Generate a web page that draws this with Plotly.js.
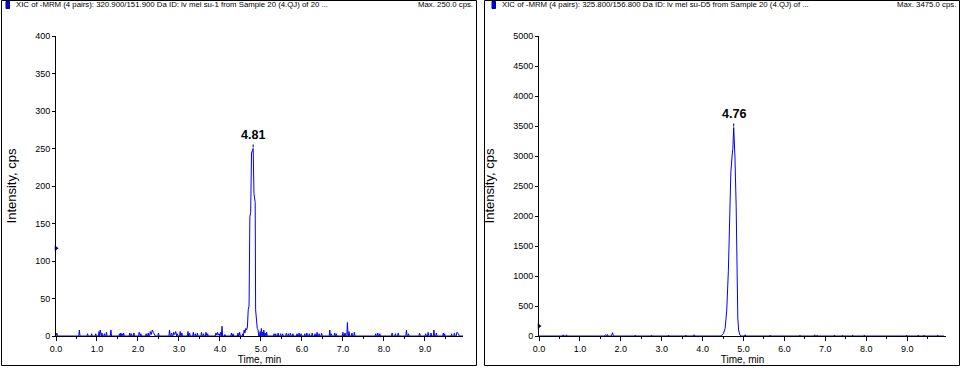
<!DOCTYPE html>
<html>
<head>
<meta charset="utf-8">
<script src="https://cdn.plot.ly/plotly-3.0.1.min.js"></script>
<style>
html,body{margin:0;padding:0;background:#fff;}
#chart{width:964px;height:370px;}
</style>
</head>
<body>
<div id="chart"></div>
<script>
// ---------- DATA ----------
const leftTitle = "XIC of -MRM (4 pairs): 320.900/151.900 Da ID: lv mel su-1 from Sample 20 (4.QJ) of 20 ...";
const rightTitle = "XIC of -MRM (4 pairs): 325.800/156.800 Da ID: lv mel su-D5 from Sample 20 (4.QJ) of ...";
const leftMax = "Max. 250.0 cps.";
const rightMax = "Max. 3475.0 cps.";

const leftTime = [
  0.000,0.020,0.035,
  0.555,0.570,0.585,
  0.755,0.770,0.785,0.855,0.870,0.885,0.955,0.970,0.985,
  1.035,1.050,1.065,1.080,1.095,1.105,1.120,1.135,
  1.165,1.180,1.195,1.215,1.230,1.245,
  1.325,1.340,1.355,
  1.535,1.550,1.565,1.580,1.595,1.610,1.625,1.635,1.650,1.665,
  1.785,1.800,1.815,1.825,1.840,1.855,1.885,1.900,1.915,
  2.015,2.030,2.045,2.055,2.070,2.085,
  2.185,2.200,2.215,2.235,2.250,2.265,2.285,2.300,2.325,2.350,2.375,2.400,2.420,
  2.485,2.500,2.515,
  2.755,2.770,2.785,2.805,2.820,2.835,2.855,2.870,2.895,2.920,2.945,2.960,2.975,
  3.015,3.030,3.045,3.055,3.070,3.085,
  3.205,3.220,3.235,3.245,3.260,3.275,
  3.335,3.350,3.365,3.385,3.400,3.415,3.435,3.450,3.465,
  3.535,3.550,3.565,3.585,3.600,3.615,3.645,3.660,3.675,3.685,3.700,3.715,
  3.885,3.900,3.920,3.940,3.960,3.980,4.000,4.020,4.035,4.050,4.065,
  4.105,4.120,4.135,
  4.265,4.280,4.295,4.305,4.320,4.335,
  4.425,4.440,4.455,4.465,4.480,4.495,
  4.540,4.555,4.570,4.590,4.610,4.630,4.650,4.670,4.690,4.710,4.730,4.750,4.770,4.790,4.810,4.830,4.845,4.860,4.870,4.890,4.910,4.930,4.945,
  4.965,4.980,4.995,5.010,5.025,5.040,5.055,5.070,5.085,5.100,5.125,5.140,5.155,
  5.305,5.320,5.335,5.345,5.360,5.375,5.405,5.420,5.435,5.465,5.480,5.495,5.515,5.530,5.545,
  5.605,5.620,5.635,5.655,5.670,5.685,5.705,5.720,5.735,5.765,5.780,5.795,
  5.865,5.880,5.895,5.915,5.930,5.945,5.965,5.980,5.995,
  6.055,6.070,6.085,6.105,6.120,6.135,6.165,6.180,6.195,6.235,6.250,6.265,
  6.305,6.320,6.335,6.355,6.370,6.385,6.405,6.420,6.435,6.465,6.480,6.495,
  6.665,6.680,6.695,6.705,6.720,6.735,
  6.785,6.800,6.815,6.825,6.840,6.855,
  6.985,7.000,7.015,7.035,7.050,7.065,7.095,7.110,7.125,7.135,7.150,7.165,7.205,7.220,7.235,7.265,7.280,7.295,
  7.785,7.800,7.815,7.835,7.850,7.865,7.885,7.900,7.915,
  8.185,8.200,8.215,8.265,8.280,8.295,8.335,8.350,8.365,
  8.535,8.550,8.565,8.585,8.600,8.615,
  8.855,8.870,8.885,
  9.005,9.020,9.035,9.065,9.080,9.095,9.135,9.150,9.165,9.205,9.220,9.235,9.265,9.280,9.295,
  9.435,9.450,9.465,9.480,9.495,
  9.635,9.650,9.665,9.705,9.720,9.735,9.765,9.780,9.800,9.820,9.835,9.930
];
const leftIntensity = [
  0,4,0,
  0,8,0,
  0,3,0,0,3,0,0,3,0,
  0,6,0,8,0,0,4,0,
  0,3,0,0,5,0,
  0,8,0,
  0,3,0,4,0,3,0,0,4,0,
  0,4,0,0,3,0,0,4,0,
  0,5,0,0,3,0,
  0,3,0,0,4,0,0,6,2,8,5,3,0,
  0,4,0,
  0,8,0,0,4,0,0,5,2,6,0,3,0,
  0,6,0,0,4,0,
  0,6,0,0,4,0,
  0,5,0,0,3,0,0,4,0,
  0,5,0,0,3,0,0,5,0,0,3,0,
  0,4,1,5,1,3,0,5,0,13,0,
  0,2,0,
  0,4,0,0,3,0,
  0,4,0,0,5,0,
  0,3,0,8,4,10,8,12,35,40,159,165,244,246,250,190,185,178,35,20,10,8,0,
  0,6,0,10,0,5,0,8,0,4,0,5,0,
  0,3,0,0,3,0,0,4,0,0,3,0,0,3,0,
  0,4,0,0,3,0,0,4,0,0,3,0,
  0,3,0,0,4,0,0,3,0,
  0,3,0,0,4,0,0,3,0,0,4,0,
  0,3,0,0,5,0,0,3,0,0,4,0,
  0,8,0,0,3,0,
  0,4,0,0,3,0,
  0,5,0,0,4,0,0,18,0,0,6,0,0,4,0,0,5,0,
  0,3,0,0,4,0,0,3,0,
  0,4,0,0,3,0,0,4,0,
  0,8,0,0,3,0,
  0,4,0,
  0,3,0,0,5,0,0,4,0,0,8,0,0,4,0,
  0,4,0,3,0,
  0,3,0,0,4,0,0,5,4,3,0,0
];

const rightTime = [
  0.000,
  0.575,0.590,0.605,0.655,0.670,0.685,
  1.605,1.620,1.635,1.655,1.670,1.685,
  1.765,1.780,1.800,1.815,
  2.335,2.350,2.365,2.735,2.750,2.765,3.155,3.170,3.185,3.575,3.590,3.605,3.775,3.790,3.805,
  4.450,4.510,4.550,4.590,4.630,4.650,4.690,4.720,4.740,4.760,4.790,4.820,4.840,4.860,4.880,4.910,4.940,
  5.025,5.040,5.055,5.635,5.650,5.665,6.365,6.380,6.395,6.725,6.740,6.755,6.785,6.800,6.815,
  7.205,7.220,7.235,7.405,7.420,7.435,7.655,7.670,7.685,7.935,7.950,7.965,
  8.975,8.990,9.005,9.255,9.270,9.285,9.395,9.410,9.425,9.735,9.750,9.765,9.900
];
const rightIntensity = [
  0,
  0,20,0,0,20,0,
  0,20,0,0,25,0,
  0,30,55,0,
  0,15,0,0,15,0,0,15,0,0,15,0,0,20,0,
  0,40,128,432,1096,1877,2720,3000,3130,3475,3000,2160,710,300,100,20,0,
  0,20,0,0,15,0,0,15,0,0,20,0,0,15,0,
  0,15,0,0,15,0,0,15,0,0,15,0,
  0,15,0,0,15,0,0,15,0,0,15,0,0
];

const leftPeakTime = [4.81], leftPeakValue = [250], leftPeakLabel = ["4.81"];
const rightPeakTime = [4.76], rightPeakValue = [3475], rightPeakLabel = ["4.76"];
const leftThreshold = [117], rightThreshold = [166];

const xTitle = "Time, min";
const yTitle = "Intensity, cps";

// ---------- LAYOUT HELPERS ----------
const W = 964, H = 370;
const px = x => x / W;
const py = y => 1 - y / H;
const FONT = "Liberation Sans, Arial, sans-serif";
const NARROW = "Liberation Sans Narrow, Liberation Sans, Arial, sans-serif";
const BLUE = "#0000FF";

function xAxis(domain, range, anchor) {
  return {
    domain: domain, range: range, anchor: anchor,
    tick0: 0, dtick: 1, tickformat: ".1f",
    ticks: "outside", ticklen: 4, tickwidth: 1, tickcolor: "#000",
    minor: {dtick: 0.5, ticks: "outside", ticklen: 2, tickcolor: "#000"},
    showline: true, linecolor: "#000", linewidth: 1,
    showgrid: false, zeroline: false,
    tickfont: {family: FONT, size: 9, color: "#000"},
    title: {text: xTitle, font: {family: FONT, size: 10, color: "#000"}, standoff: 3},
    fixedrange: true
  };
}
function yAxis(domain, range, dtick, anchor) {
  return {
    domain: domain, range: range, anchor: anchor,
    tick0: 0, dtick: dtick,
    ticks: "outside", ticklen: 3, tickwidth: 1, tickcolor: "#000",
    showline: true, linecolor: "#000", linewidth: 1,
    showgrid: false, zeroline: false,
    tickfont: {family: FONT, size: 9, color: "#000"},
    title: {text: yTitle, font: {family: FONT, size: 13, color: "#000"}, standoff: 15},
    fixedrange: true
  };
}

const traces = [
  {x: leftTime, y: leftIntensity, xaxis: "x", yaxis: "y", type: "scatter", mode: "lines",
   line: {color: BLUE, width: 1}, hoverinfo: "skip"},
  {x: rightTime, y: rightIntensity, xaxis: "x2", yaxis: "y2", type: "scatter", mode: "lines",
   line: {color: BLUE, width: 1}, hoverinfo: "skip"},
  {x: [0], y: leftThreshold, xaxis: "x", yaxis: "y", type: "scatter", mode: "markers",
   marker: {symbol: "triangle-right", size: 5, color: "#00008B"}, cliponaxis: false, hoverinfo: "skip"},
  {x: [0], y: rightThreshold, xaxis: "x2", yaxis: "y2", type: "scatter", mode: "markers",
   marker: {symbol: "triangle-right", size: 5, color: "#00008B"}, cliponaxis: false, hoverinfo: "skip"}
];

const ydom = [py(336), py(36)];

const layout = {
  width: W, height: H,
  margin: {l: 0, r: 0, t: 0, b: 0},
  paper_bgcolor: "#fff", plot_bgcolor: "rgba(0,0,0,0)",
  showlegend: false,
  font: {family: FONT, color: "#000"},
  xaxis: xAxis([px(56), px(463)], [0, 9.93], "y"),
  yaxis: yAxis(ydom, [0, 400], 50, "x"),
  xaxis2: xAxis([px(539), px(946)], [0, 9.95], "y2"),
  yaxis2: yAxis(ydom, [0, 5000], 500, "x2"),
  shapes: [
    {type: "rect", xref: "paper", yref: "paper", x0: px(1.5), x1: px(476.5), y0: py(365.5), y1: py(0.5),
     line: {color: "#000", width: 1}, fillcolor: "rgba(0,0,0,0)", layer: "below"},
    {type: "rect", xref: "paper", yref: "paper", x0: px(484.5), x1: px(959.5), y0: py(365.5), y1: py(0.5),
     line: {color: "#000", width: 1}, fillcolor: "rgba(0,0,0,0)", layer: "below"},
    {type: "rect", xref: "paper", yref: "paper", x0: px(6), x1: px(9.5), y0: py(8.5), y1: py(1.5),
     line: {color: "#000080", width: 1}, fillcolor: "#0000FF"},
    {type: "rect", xref: "paper", yref: "paper", x0: px(492), x1: px(495.5), y0: py(8.5), y1: py(1.5),
     line: {color: "#000080", width: 1}, fillcolor: "#0000FF"},
    {type: "line", xref: "x", yref: "y", xsizemode: "scaled", ysizemode: "pixel",
     x0: leftPeakTime[0], x1: leftPeakTime[0], yanchor: leftPeakValue[0], y0: 1, y1: 7,
     line: {color: "#000", width: 1, dash: "dot"}},
    {type: "line", xref: "x2", yref: "y2", xsizemode: "scaled", ysizemode: "pixel",
     x0: rightPeakTime[0], x1: rightPeakTime[0], yanchor: rightPeakValue[0], y0: 1, y1: 7,
     line: {color: "#000", width: 1, dash: "dot"}}
  ],
  annotations: [
    {xref: "paper", yref: "paper", x: px(14), y: py(5), xanchor: "left", yanchor: "middle",
     text: leftTitle, showarrow: false, font: {family: NARROW, size: 7.8, color: "#000"}},
    {xref: "paper", yref: "paper", x: px(475), y: py(5), xanchor: "right", yanchor: "middle",
     text: leftMax, showarrow: false, font: {family: NARROW, size: 7.8, color: "#000"}},
    {xref: "paper", yref: "paper", x: px(500), y: py(5), xanchor: "left", yanchor: "middle",
     text: rightTitle, showarrow: false, font: {family: NARROW, size: 7.8, color: "#000"}},
    {xref: "paper", yref: "paper", x: px(958), y: py(5), xanchor: "right", yanchor: "middle",
     text: rightMax, showarrow: false, font: {family: NARROW, size: 7.8, color: "#000"}},
    {xref: "x", yref: "y", x: leftPeakTime[0], y: leftPeakValue[0], yanchor: "bottom", yshift: 5,
     text: "<b>" + leftPeakLabel[0] + "</b>", showarrow: false, font: {family: FONT, size: 12.5, color: "#000"}},
    {xref: "x2", yref: "y2", x: rightPeakTime[0], y: rightPeakValue[0], yanchor: "bottom", yshift: 5,
     text: "<b>" + rightPeakLabel[0] + "</b>", showarrow: false, font: {family: FONT, size: 12.5, color: "#000"}}
  ]
};

Plotly.newPlot("chart", traces, layout, {displayModeBar: false, staticPlot: true});
</script>
</body>
</html>
